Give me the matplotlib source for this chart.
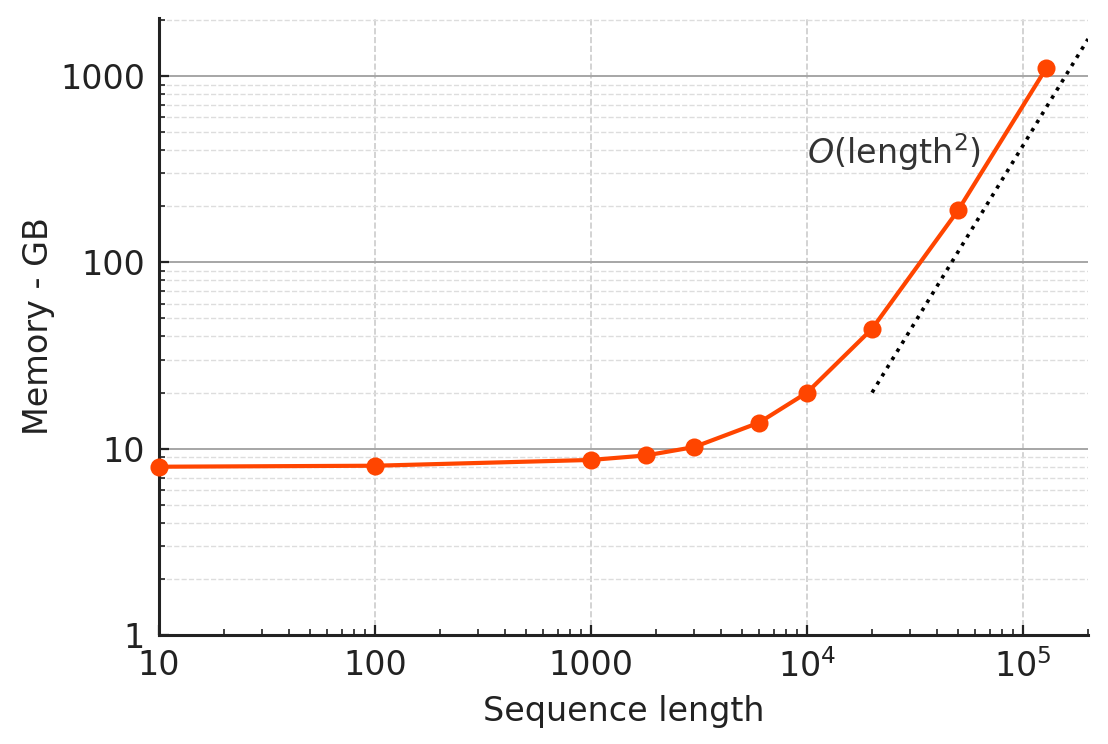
import numpy as np
import matplotlib
matplotlib.use("Agg")
import matplotlib.pyplot as plt
from matplotlib.ticker import LogLocator, NullFormatter

# measured memory vs sequence length
seq_len = [10, 100, 1000, 1800, 3000, 6000, 10000, 20000, 50000, 128000]
mem_gb = [8.0, 8.1, 8.7, 9.2, 10.2, 13.8, 20.0, 44.0, 190.0, 1100.0]

# O(n^2) guide line
ref_x = [2e4, 2e5]
ref_y = [20.0, 1580.0]

xticks = [10, 100, 1000, 1e4, 1e5]
xtick_labels = ['10', '100', '1000', '$10^4$', '$10^5$']
yticks = [1, 10, 100, 1000]
ytick_labels = ['1', '10', '100', '1000']

plt.rcParams['font.family'] = 'DejaVu Sans'
plt.rcParams['font.size'] = 12

fig = plt.figure(figsize=(5.54, 3.72), dpi=200)
ax = fig.add_axes([0.1435, 0.1465, 0.8385, 0.8293])

ax.plot(seq_len, mem_gb, '-o', color='#FF4500', lw=1.5, ms=5.5, clip_on=False, zorder=5)
ax.plot(ref_x, ref_y, ':', color='black', lw=1.3, zorder=4)
ax.text(1e4, 390, r'$\mathit{O}(\mathrm{length}^2)$', color='#333333', fontsize=12,
        ha='left', va='center')

ax.set_xscale('log')
ax.set_yscale('log')
ax.set_xlim(10, 2e5)
ax.set_ylim(1, 2048)

ax.set_xticks(xticks)
ax.set_xticklabels(xtick_labels)
ax.set_yticks(yticks)
ax.set_yticklabels(ytick_labels)
ax.xaxis.set_minor_locator(LogLocator(base=10, subs=np.arange(2, 10)))
ax.yaxis.set_minor_locator(LogLocator(base=10, subs=np.arange(2, 10)))
ax.xaxis.set_minor_formatter(NullFormatter())
ax.yaxis.set_minor_formatter(NullFormatter())

ax.tick_params(which='major', direction='in', length=3.6, width=0.8, colors='#222222', labelsize=12, pad=5)
ax.tick_params(which='minor', direction='in', length=2, width=0.6, colors='#222222')

ax.grid(True, axis='y', which='major', color='#a6a6a6', lw=0.7, ls='-')
ax.grid(True, axis='y', which='minor', color='#dddddd', lw=0.5, ls='--')
ax.grid(True, axis='x', which='major', color='#cccccc', lw=0.6, ls='--')

for s in ['top', 'right']:
    ax.spines[s].set_visible(False)
for s in ['left', 'bottom']:
    ax.spines[s].set_linewidth(1.1)
    ax.spines[s].set_color('#222222')

ax.set_xlabel('Sequence length', color='#222222', labelpad=4)
ax.set_ylabel('Memory - GB', color='#222222', labelpad=2)

fig.savefig('out.png', dpi=200)
